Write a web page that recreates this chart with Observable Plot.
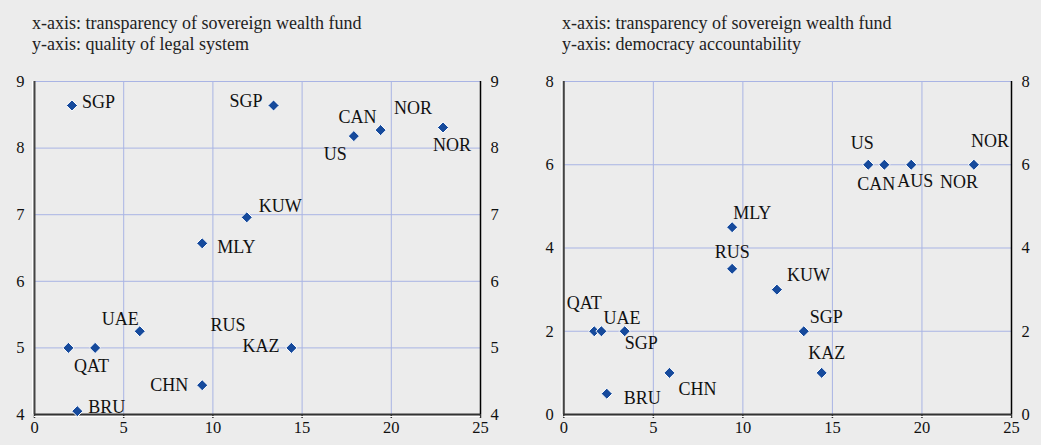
<!DOCTYPE html>
<html><head><meta charset="utf-8">
<script src="https://cdn.jsdelivr.net/npm/d3@7"></script>
<script src="https://cdn.jsdelivr.net/npm/@observablehq/plot@0.6"></script>
<style>
body{margin:0;background:#ececec;font-family:"Liberation Serif","Tinos","Times New Roman","DejaVu Serif",serif;}
#wrap{display:flex;width:1041px;}
.panel{position:relative;}
.title{height:62px;box-sizing:border-box;padding-top:13px;font-size:18px;line-height:21px;color:#222;white-space:nowrap;}
svg{display:block;}
</style></head><body>
<div id="wrap">
  <div class="panel" id="p1" style="width:520px"><div class="title" id="t1" style="padding-left:32px"></div></div>
  <div class="panel" id="p2" style="width:521px"><div class="title" id="t2" style="padding-left:42px"></div></div>
</div>
<script>
// ---- Data ----
const titles1 = ["x-axis: transparency of sovereign wealth fund", "y-axis: quality of legal system"];
const titles2 = ["x-axis: transparency of sovereign wealth fund", "y-axis: democracy accountability"];
const xTicks = [0, 5, 10, 15, 20, 25];
const yTicks1 = [4, 5, 6, 7, 8, 9];
const yTicks2 = [0, 2, 4, 6, 8];

const countries1 = ["SGP","SGP","US","CAN","NOR","NOR","KUW","MLY","UAE","QAT","","RUS","KAZ","CHN","BRU"];
const transparency1 = [2.1,13.4,17.9,19.4,22.9,22.9,11.9,9.4,5.9,1.9,3.4,14.4,14.4,9.4,2.4];
const legal = [8.64,8.64,8.18,8.27,8.31,8.31,6.96,6.57,5.25,5.0,5.0,5.0,5.0,4.44,4.05];

const countries2 = ["US","CAN","AUS","NOR","NOR","MLY","RUS","KUW","QAT","UAE","SGP","SGP","KAZ","CHN","BRU"];
const transparency2 = [17.0,17.9,19.4,22.9,22.9,9.4,9.4,11.9,1.7,2.1,3.4,13.4,14.4,5.9,2.4];
const democracy = [6,6,6,6,6,4.5,3.5,3,2,2,2,2,1,1,0.5];

// ---- Label placement (layout, not data) ----
const labelPos1 = [["start",10,-3],["end",-11,-4],["end",-7,18],["end",-4,-13],["end",-11,-19],["start",-10,18],
  ["start",12,-11],["start",15,4],["end",-1,-12],["middle",23,18],["middle",0,0],["end",-46,-23],["end",-12,-2],["end",-14,0],["start",11,-4]];
const labelPos2 = [["middle",-6,-22],["middle",-8,19],["middle",4,16],["middle",16,-24],["middle",-15,17],["start",1,-14],
  ["middle",0,-17],["start",10,-14],["middle",-10,-28],["start",2,-13],["start",0,12],["start",6,-14],["middle",5,-20],["start",9,16],["start",17,5]];

const FONT = '"Liberation Serif","Tinos","Times New Roman","DejaVu Serif",serif';
const GRID = "#a9b4e4";
const DOT = "#164a9c";
const fmt = d3.format("d");

function panel(names, xs, ys, yTicks, yDomain, pos, opts) {
  const data = names.map((n, i) => ({name: n, x: xs[i], y: ys[i]}));
  const labels = data.map((d, i) => Plot.text([d], {
    x: "x", y: "y", text: "name", textAnchor: pos[i][0], dx: pos[i][1], dy: pos[i][2],
    fontSize: 18, fill: "#111", fontFamily: FONT
  }));
  const yMin = yDomain[0], yMax = yDomain[1];
  return Plot.plot({
    width: opts.width, height: 382,
    marginTop: 19, marginBottom: 30, marginLeft: opts.ml, marginRight: opts.mr,
    style: {background: "transparent", fontFamily: FONT, fontSize: "16.5px", color: "#111", overflow: "visible"},
    x: {domain: [0, 25], label: null},
    y: {domain: yDomain, label: null},
    marks: [
      Plot.gridX({ticks: xTicks.slice(1, -1), stroke: GRID, strokeOpacity: 1, strokeWidth: 1}),
      Plot.gridY({ticks: yTicks.slice(1), stroke: GRID, strokeOpacity: 1, strokeWidth: 1}),
      Plot.axisY({anchor: "left", ticks: yTicks, tickFormat: fmt, label: null, tickSize: 0, tickPadding: 10, fontSize: 16.5, fontFamily: FONT, fill: "#111"}),
      Plot.axisY({anchor: "right", ticks: yTicks, tickFormat: fmt, label: null, tickSize: 0, tickPadding: 10, fontSize: 16.5, fontFamily: FONT, fill: "#111"}),
      Plot.axisX({ticks: xTicks, tickFormat: fmt, label: null, tickSize: 4, tickPadding: 3, fontSize: 16.5, fontFamily: FONT, stroke: "#333", strokeWidth: 1.5, fill: "#111"}),
      Plot.ruleX([0], {y1: yMin, y2: yMax, stroke: "#fff", strokeWidth: 1, dx: -2}),
      Plot.ruleX([0], {y1: yMin, y2: yMax, stroke: "#444", strokeWidth: 2}),
      Plot.ruleX([25], {y1: yMin, y2: yMax, stroke: "#000", strokeWidth: 1.5}),
      Plot.ruleY([yMin], {x1: 0, x2: 25, stroke: "#fff", strokeWidth: 1, dy: 2}),
      Plot.ruleY([yMin], {x1: 0, x2: 25, stroke: "#333", strokeWidth: 2}),
      Plot.dot(data, {x: "x", y: "y", symbol: "diamond2", r: 5, fill: DOT, stroke: "#fff", strokeWidth: 1}),
      ...labels
    ]
  });
}

document.getElementById("t1").innerHTML = titles1.join("<br>");
document.getElementById("t2").innerHTML = titles2.join("<br>");
document.getElementById("p1").appendChild(panel(countries1, transparency1, legal, yTicks1, [4, 9], labelPos1, {width: 520, ml: 34, mr: 40}));
document.getElementById("p2").appendChild(panel(countries2, transparency2, democracy, yTicks2, [0, 8], labelPos2, {width: 521, ml: 43.3, mr: 30}));
</script>
</body></html>
